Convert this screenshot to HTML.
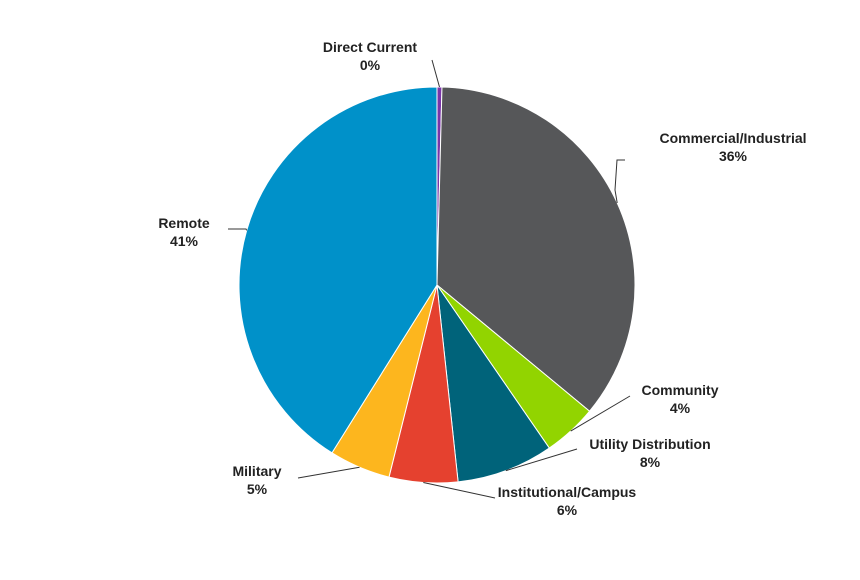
<!DOCTYPE html>
<html><head><meta charset="utf-8"><style>
body{margin:0;background:#fff;}
svg text{font-family:"Liberation Sans",Arial,sans-serif;font-weight:bold;font-size:14px;fill:#222;}
</style></head><body>
<svg width="860" height="575" id="chart">
<g id="slices"></g><g id="labels"></g>
</svg>
<script>
const categories=["Direct Current","Commercial/Industrial","Community","Utility Distribution","Institutional/Campus","Military","Remote"];
const values=[0.4,35.6,4.4,7.9,5.6,5.0,41.1];
const labelsPct=["0%","36%","4%","8%","6%","5%","41%"];
const colors=["#7b35a8","#565759","#92d400","#00637a","#e5412f","#fdb61e","#0091c9"];
const cx=437,cy=285,r=198;
const lab=[{x:370,y:52,a:"middle",lx:432,ly:60},{x:733,y:143,a:"middle",lx:617,ly:160},{x:680,y:395,a:"middle",lx:630,ly:396},{x:650,y:449,a:"middle",lx:577,ly:449},{x:567,y:497,a:"middle",lx:495,ly:498},{x:257,y:476,a:"middle",lx:298,ly:478},{x:184,y:228,a:"middle",lx:228,ly:229}];
const ns="http://www.w3.org/2000/svg";
const total=values.reduce((a,b)=>a+b,0);
let acc=0;
const pt=(f,rr)=>{const t=f*2*Math.PI;return [cx+rr*Math.sin(t),cy-rr*Math.cos(t)];};
const gs=document.getElementById('slices'),gl=document.getElementById('labels');
values.forEach((v,i)=>{
 const f0=acc/total;acc+=v;const f1=acc/total;
 const [x0,y0]=pt(f0,r),[x1,y1]=pt(f1,r);
 const p=document.createElementNS(ns,'path');
 p.setAttribute('d',`M${cx},${cy}L${x0},${y0}A${r},${r} 0 ${(f1-f0)>0.5?1:0} 1 ${x1},${y1}Z`);
 p.setAttribute('fill',colors[i]);p.setAttribute('stroke','#fff');p.setAttribute('stroke-width','1');
 
 
 gs.appendChild(p);
 const L=lab[i];const [ex,ey]=pt((f0+f1)/2,r);
 const ln=document.createElementNS(ns,'path');
 let d;
 if(i===6) d=`M${ex},${ey}L${L.lx+18},${L.ly}L${L.lx},${L.ly}`;
 else if(i===1) d=`M${ex},${ey}L${L.lx-2},${L.ly+30}L${L.lx},${L.ly}L${L.lx+8},${L.ly}`;
 else d=`M${ex},${ey}L${L.lx},${L.ly}`;
 ln.setAttribute('d',d);ln.setAttribute('fill','none');ln.setAttribute('stroke','#333');ln.setAttribute('stroke-width','1');
 
 
 gl.appendChild(ln);
 const t=document.createElementNS(ns,'text');
 t.setAttribute('x',L.x);t.setAttribute('y',L.y);t.setAttribute('text-anchor',L.a);
 
 
 const s1=document.createElementNS(ns,'tspan');s1.setAttribute('x',L.x);s1.textContent=categories[i];
 const s2=document.createElementNS(ns,'tspan');s2.setAttribute('x',L.x);s2.setAttribute('dy','18');s2.textContent=labelsPct[i];
 t.appendChild(s1);t.appendChild(s2);gl.appendChild(t);
});
</script>
</body></html>
